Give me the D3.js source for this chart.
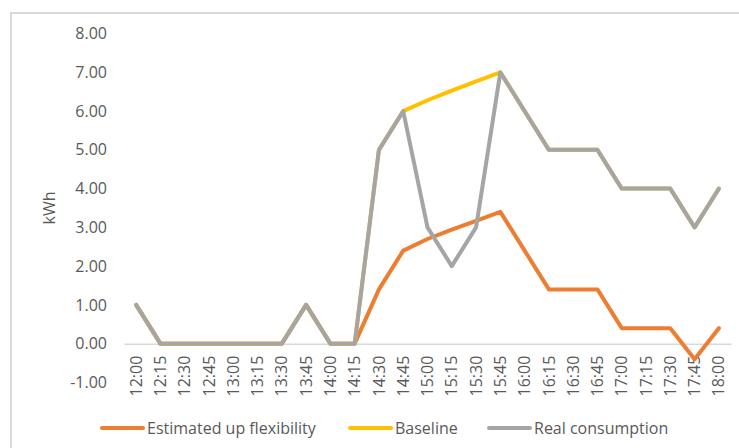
<!DOCTYPE html>
<html>
<head>
<meta charset="utf-8">
<script src="https://cdn.jsdelivr.net/npm/d3@7"></script>
<style>
  html, body { margin: 0; padding: 0; background: #fff; }
  svg { display: block; font-family: "Open Sans", sans-serif; }
</style>
</head>
<body>
<svg id="chart" width="739" height="448"></svg>
<script>
// Quarter-hour time slots
const times = ["12:00","12:15","12:30","12:45","13:00","13:15","13:30","13:45",
  "14:00","14:15","14:30","14:45","15:00","15:15","15:30","15:45",
  "16:00","16:15","16:30","16:45","17:00","17:15","17:30","17:45","18:00"];

// Energy per slot, kWh
const flexibility = [1,0,0,0,0,0,0,1,0,0,1.4,2.4,2.7,2.94,3.17,3.4,
  2.4,1.4,1.4,1.4,0.4,0.4,0.4,-0.4,0.4];
const baseline = [1,0,0,0,0,0,0,1,0,0,5,6,6.28,6.53,6.77,7,
  6,5,5,5,4,4,4,3,4];
const realConsumption = [1,0,0,0,0,0,0,1,0,0,5,6,3,2,3,7,
  6,5,5,5,4,4,4,3,4];

const yTicks = [-1,0,1,2,3,4,5,6,7,8];
const seriesNames = ["Estimated up flexibility","Baseline","Real consumption"];
const seriesColors = ["#ED7D31","#FFC000","#A5A5A5"];
const seriesValues = [flexibility, baseline, realConsumption];

const svg = d3.select("#chart");
const textColor = "#595959";
const fontSize = "16px";

// chart frame
svg.append("rect")
  .attr("x", 11).attr("y", 13)
  .attr("width", 760).attr("height", 480)
  .attr("fill", "none").attr("stroke", "#D9D9D9").attr("stroke-width", 2);

const x = d3.scaleBand().domain(times).range([124, 731]);
const y = d3.scaleLinear().domain([-1, 8]).range([382.4, 33.6]);
const cx = d => x(d) + x.bandwidth() / 2;

// value axis (plain hyphen for negatives)
const yAxis = svg.append("g")
  .attr("transform", "translate(124,0)")
  .call(d3.axisLeft(y).tickValues(yTicks).tickSize(0).tickPadding(17)
    .tickFormat(d => d.toFixed(2)));
yAxis.select(".domain").remove();
yAxis.selectAll("text")
  .attr("fill", textColor).style("font-size", fontSize)
  .style("font-family", "'Open Sans', sans-serif");

// category axis crossing at zero
const xAxis = svg.append("g")
  .attr("transform", `translate(0,${y(0)})`)
  .call(d3.axisBottom(x).tickSize(0).tickPadding(0));
xAxis.select(".domain").attr("stroke", "#D9D9D9").attr("stroke-width", 1.5);
xAxis.selectAll(".tick text")
  .attr("fill", textColor).style("font-size", fontSize)
  .style("font-family", "'Open Sans', sans-serif")
  .attr("text-anchor", "end")
  .attr("transform", "rotate(-90)")
  .attr("x", -12).attr("y", 0).attr("dy", "0.35em");

// axis title
svg.append("text")
  .attr("transform", `translate(55,${208}) rotate(-90)`)
  .attr("text-anchor", "middle")
  .attr("fill", textColor).style("font-size", fontSize)
  .text("kWh");

// series lines
const line = d3.line()
  .x((d, i) => cx(times[i]))
  .y(d => y(d));
seriesValues.forEach((vals, i) => {
  svg.append("path")
    .datum(vals)
    .attr("d", line)
    .attr("fill", "none")
    .attr("stroke", seriesColors[i])
    .attr("stroke-width", 4)
    .attr("stroke-linejoin", "round")
    .attr("stroke-linecap", "round");
});

// legend
const legendX = [100, 348, 487];
const legend = svg.append("g");
seriesNames.forEach((name, i) => {
  legend.append("line")
    .attr("x1", legendX[i] + 2).attr("x2", legendX[i] + 43)
    .attr("y1", 428).attr("y2", 428)
    .attr("stroke", seriesColors[i]).attr("stroke-width", 4)
    .attr("stroke-linecap", "round");
  legend.append("text")
    .attr("x", legendX[i] + 47).attr("y", 428).attr("dy", "0.35em")
    .attr("fill", textColor).style("font-size", fontSize)
    .text(name);
});
</script>
</body>
</html>
